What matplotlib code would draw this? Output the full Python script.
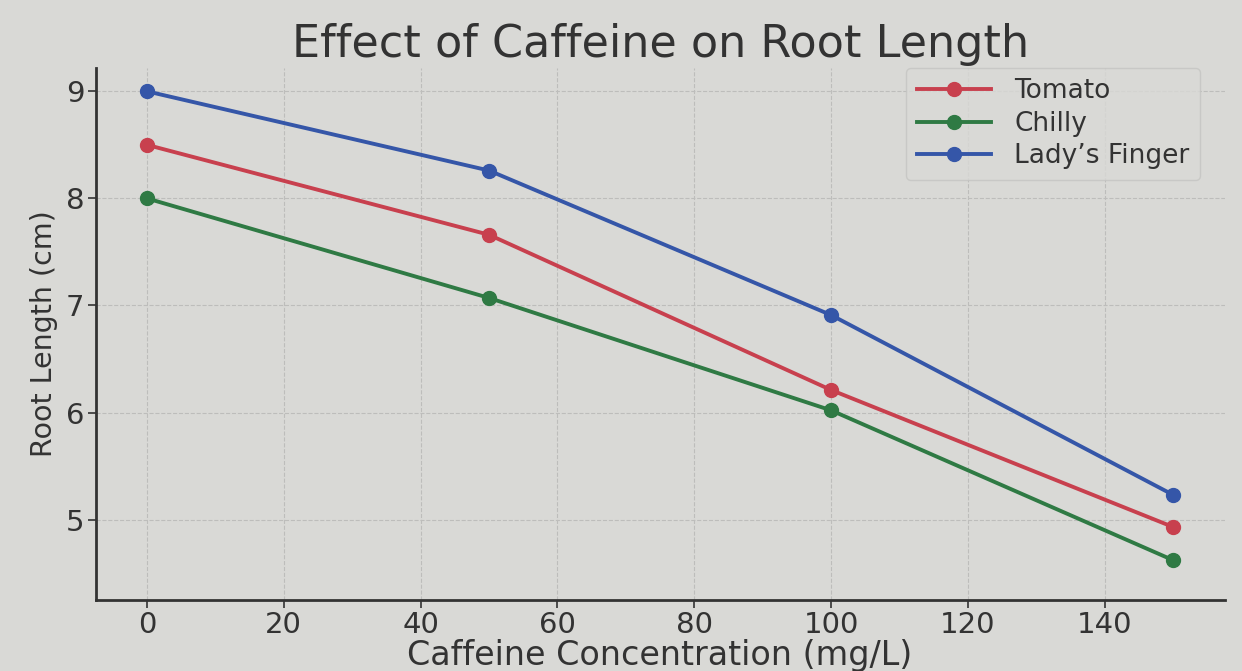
import matplotlib.pyplot as plt

concentration = [0, 50, 100, 150]
tomato = [8.5, 7.66, 6.21, 4.93]
chilly = [8.0, 7.07, 6.02, 4.62]
ladys_finger = [9.0, 8.26, 6.91, 5.23]

series = [
    ("Tomato", tomato, "#c8404e"),
    ("Chilly", chilly, "#2f7a44"),
    ("Lady’s Finger", ladys_finger, "#3556a8"),
]

bg = "#d9d9d6"
fig = plt.figure(figsize=(12.42, 6.71), dpi=100, facecolor=bg)
ax = fig.add_axes([0.077, 0.106, 0.909, 0.793], facecolor=bg)

for name, vals, color in series:
    ax.plot(concentration, vals, marker="o", color=color, lw=2.8,
            markersize=10, label=name)

ax.set_title("Effect of Caffeine on Root Length", fontsize=32, color="#333333", pad=8)
ax.set_xlabel("Caffeine Concentration (mg/L)", fontsize=24, color="#333333", labelpad=0)
ax.set_ylabel("Root Length (cm)", fontsize=20.5, color="#333333", labelpad=6)
ax.tick_params(labelsize=21, colors="#333333", length=6, width=1.2, pad=2)
ax.set_yticks([5, 6, 7, 8, 9])
ax.set_ylim(4.25, 9.22)
ax.grid(True, color="#bdbdbb", linestyle="--", linewidth=0.8)
for s in ["top", "right"]:
    ax.spines[s].set_visible(False)
for s in ["left", "bottom"]:
    ax.spines[s].set_linewidth(2)
    ax.spines[s].set_color("#333333")

leg = ax.legend(loc="upper right", fontsize=19, frameon=True, facecolor=bg,
                edgecolor="#c4c4c2", handlelength=2.8, handletextpad=0.9,
                borderpad=0.4, labelspacing=0.25, bbox_to_anchor=(0.99, 1.025))
for t in leg.get_texts():
    t.set_color("#333333")

fig.savefig("out.png", dpi=100, facecolor=bg)
